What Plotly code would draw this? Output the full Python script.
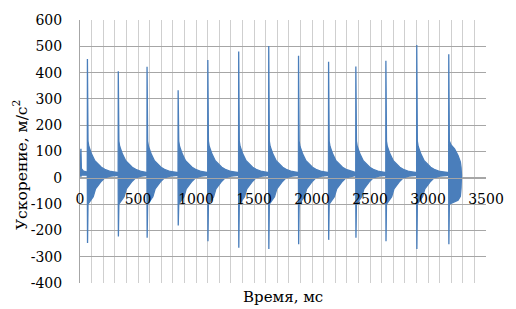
import plotly.graph_objects as go

# ---- data ----
spike_times = [64, 330, 578, 846, 1102, 1368, 1627, 1884, 2143, 2378, 2637, 2903, 3179]
spike_pos = [452, 405, 422, 333, 448, 480, 501, 464, 441, 423, 445, 505, 470]
spike_neg = [-248, -223, -228, -181, -241, -266, -271, -253, -236, -228, -241, -271, -253]

# decay envelope after each impact (ms after impact -> acceleration)
upper_offsets = [5, 12, 36, 64, 92, 120, 150, 200]
upper_values = [140, 120, 90, 65, 51, 40, 32, 24]
lower_offsets = [5, 20, 50, 70, 92, 120, 150, 200]
lower_values = [-100, -92, -72, -42, -32, -13, 0, 6]
baseline_upper = 20
baseline_lower = 9
baseline_mid = 15

# last impact (record ends during the vibration)
last_offsets = [5, 20, 50, 80, 100, 106, 110]
last_upper = [140, 125, 110, 85, 60, 40, 20]
last_lower = [-100, -95, -90, -85, -70, -40, 10]

# signal before first impact
lead_times = [0, 4, 8, 12, 30, 62]
lead_upper = [20, 60, 110, 35, 25, 22]
lead_lower = [10, 8, 6, 10, 10, 10]

x_ticks = [0, 500, 1000, 1500, 2000, 2500, 3000, 3500]
y_ticks = [-400, -300, -200, -100, 0, 100, 200, 300, 400, 500, 600]

color = "#4a7ebb"

xs, ys = [], []
xs += lead_times + lead_times[::-1]
ys += lead_upper + lead_lower[::-1]
xs.append(None); ys.append(None)

n = len(spike_times)
for i in range(n):
    t0 = spike_times[i]
    if i < n - 1:
        t_end = spike_times[i + 1] - 2
        ux = [t0 + o for o in upper_offsets] + [t_end]
        uy = upper_values + [baseline_upper]
        lx = [t0 + o for o in lower_offsets] + [t_end]
        ly = lower_values + [baseline_lower]
    else:
        ux = [t0 + o for o in last_offsets]
        uy = last_upper
        lx = [t0 + o for o in last_offsets]
        ly = last_lower
    xs += [t0 - 1, t0] + ux + lx[::-1] + [t0 + 1, t0 - 1]
    ys += [baseline_mid, spike_pos[i]] + uy + ly[::-1] + [spike_neg[i], baseline_mid]
    xs.append(None); ys.append(None)

fig = go.Figure()
fig.add_trace(go.Scatter(
    x=xs, y=ys, mode="lines", fill="toself",
    line=dict(color=color, width=1.3), fillcolor=color,
    hoverinfo="skip", showlegend=False,
))

ff = "DejaVu Serif"

fig.update_layout(
    width=516, height=309,
    margin=dict(l=80, r=18, t=17, b=26),
    paper_bgcolor="white", plot_bgcolor="white",
    font=dict(family=ff, size=14, color="#000000"),
    showlegend=False,
    xaxis=dict(
        range=[0, 3500], tickvals=x_ticks, ticktext=[str(v) for v in x_ticks],
        showgrid=True, gridcolor="#cfcfcf", gridwidth=1,
        minor=dict(dtick=100, showgrid=True, gridcolor="#cfcfcf", gridwidth=1),
        zeroline=False, showline=True, linecolor="#a6a6a6", linewidth=1,
        anchor="free", position=0.4, ticks="", ticklabelstandoff=8,
        tickfont=dict(family=ff, size=14, color="#000000"),
    ),
    yaxis=dict(
        range=[-400, 600], tickvals=y_ticks, ticktext=[str(v) for v in y_ticks],
        showgrid=True, gridcolor="#a6a6a6", gridwidth=1,
        zeroline=False, showline=True, linecolor="#a6a6a6", linewidth=1,
        ticks="", ticklabelstandoff=14,
        tickfont=dict(family=ff, size=14, color="#000000"),
    ),
    annotations=[
        dict(text="Время, мс", xref="paper", yref="paper", x=0.5, y=(283 - 297) / 266,
             xanchor="center", yanchor="middle", showarrow=False,
             font=dict(family=ff, size=15, color="#000000")),
        dict(text="Ускорение, м/с<sup>2</sup>", xref="paper", yref="paper",
             x=(19 - 80) / 418, y=(283 - 163) / 266, textangle=-90,
             xanchor="center", yanchor="middle", showarrow=False,
             font=dict(family=ff, size=15.5, color="#000000")),
    ],
)

fig.write_html("out.html", config={"displayModeBar": False},
               post_script="document.body.style.margin='0';")
